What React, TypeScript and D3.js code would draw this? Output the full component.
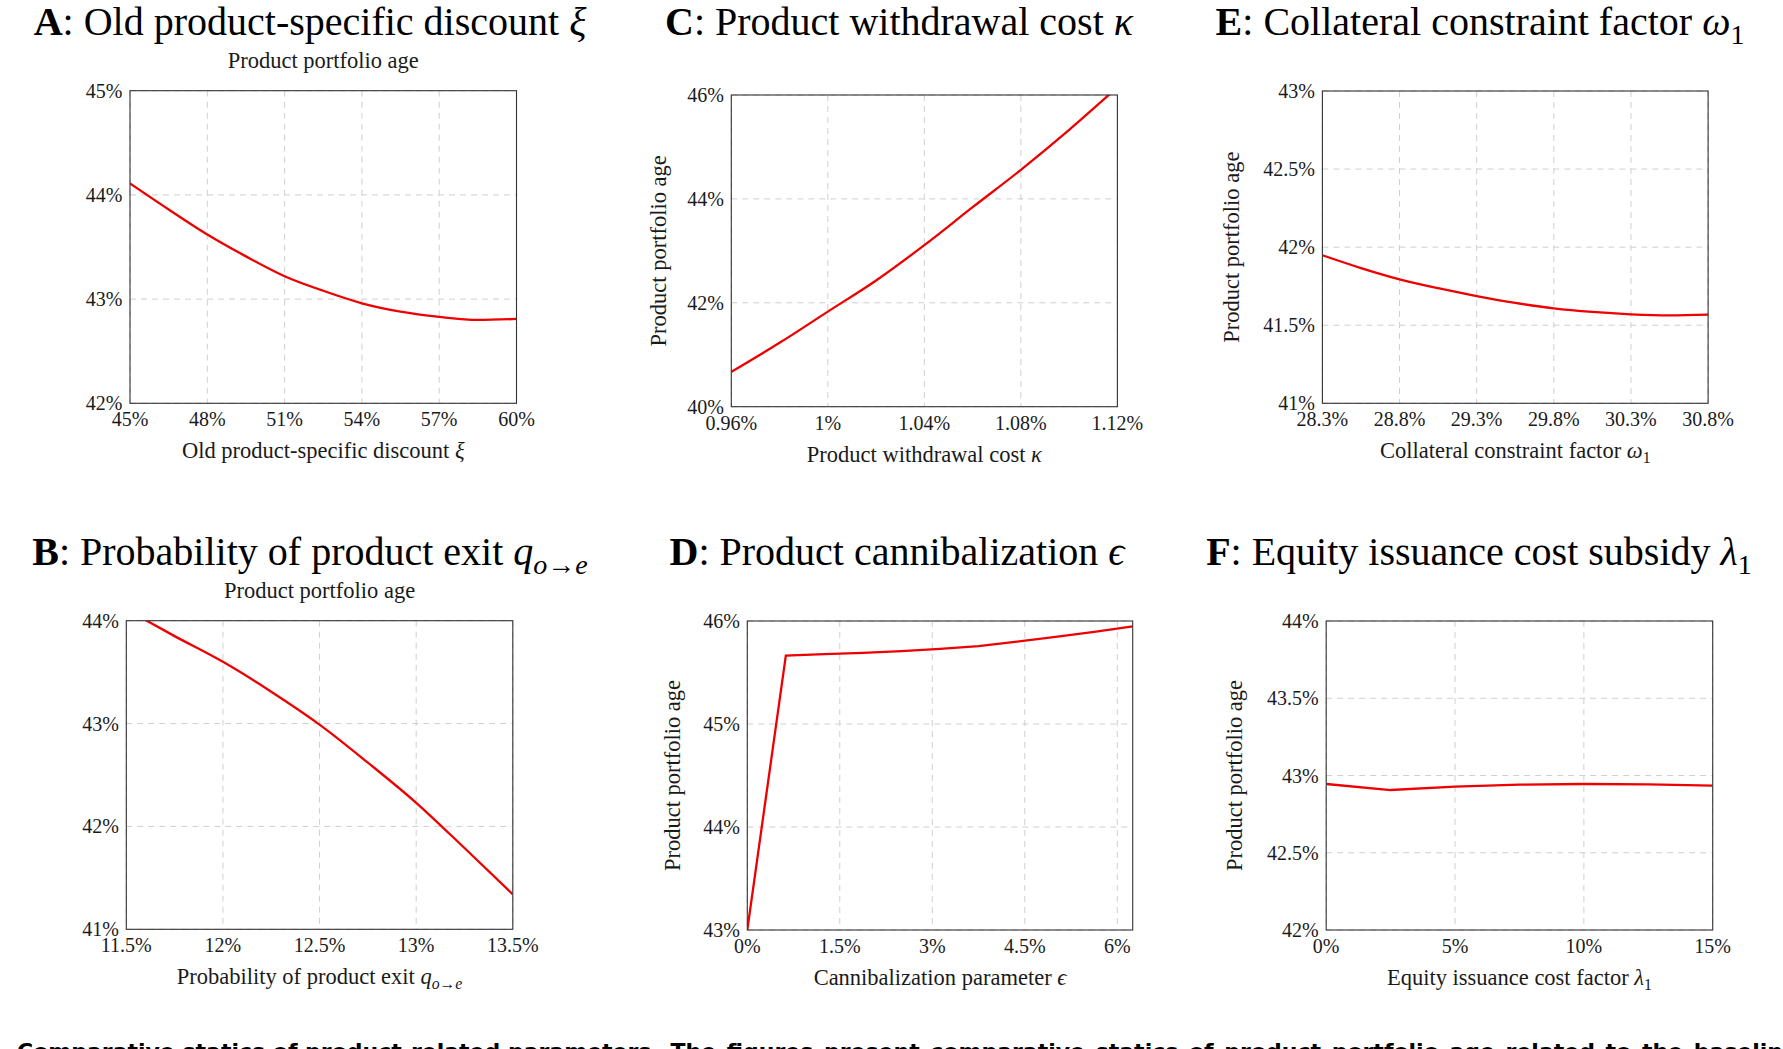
import * as d3 from "d3";

// A: old product-specific discount
const discountX = [45, 46.5, 48, 49.5, 51, 52.5, 54, 55.5, 57, 58.5, 60];
const discountAge = [44.11, 43.86, 43.62, 43.41, 43.22, 43.08, 42.96, 42.88, 42.83, 42.8, 42.81];
const discountTicks = [45, 48, 51, 54, 57, 60];
const discountAgeTicks = [42, 43, 44, 45];

// B: probability of product exit
const exitX = [11.5, 11.75, 12, 12.25, 12.5, 12.75, 13, 13.25, 13.5];
const exitAge = [44.11, 43.85, 43.6, 43.31, 42.99, 42.62, 42.23, 41.79, 41.34];
const exitTicks = [11.5, 12, 12.5, 13, 13.5];
const exitAgeTicks = [41, 42, 43, 44];

// C: product withdrawal cost
const withdrawX = [0.96, 0.98, 1.0, 1.02, 1.04, 1.06, 1.08, 1.1, 1.12];
const withdrawAge = [40.67, 41.23, 41.83, 42.43, 43.11, 43.84, 44.56, 45.33, 46.15];
const withdrawTicks = [0.96, 1.0, 1.04, 1.08, 1.12];
const withdrawAgeTicks = [40, 42, 44, 46];

// D: product cannibalization
const cannibX = [0, 0.625, 1.25, 1.875, 2.5, 3.125, 3.75, 4.375, 5, 5.625, 6.25];
const cannibAge = [43.0, 45.665, 45.678, 45.69, 45.708, 45.73, 45.757, 45.8, 45.845, 45.895, 45.948];
const cannibTicks = [0, 1.5, 3, 4.5, 6];
const cannibAgeTicks = [43, 44, 45, 46];

// E: collateral constraint factor
const collatX = [28.3, 28.55, 28.8, 29.05, 29.3, 29.55, 29.8, 30.05, 30.3, 30.55, 30.8];
const collatAge = [41.948, 41.866, 41.794, 41.737, 41.687, 41.643, 41.608, 41.585, 41.57, 41.563, 41.568];
const collatTicks = [28.3, 28.8, 29.3, 29.8, 30.3, 30.8];
const collatAgeTicks = [41, 41.5, 42, 42.5, 43];

// F: equity issuance cost subsidy
const subsidyX = [0, 2.5, 5, 7.5, 10, 12.5, 15];
const subsidyAge = [42.945, 42.906, 42.928, 42.941, 42.945, 42.943, 42.934];
const subsidyTicks = [0, 5, 10, 15];
const subsidyAgeTicks = [42, 42.5, 43, 43.5, 44];

const captionBold = "Comparative statics of product-related parameters.";
const captionRest =
  " The figures present comparative statics of product portfolio age related to the baseline";

type Seg = { t: string; b?: boolean; i?: boolean; sub?: boolean };

const serif = "'Liberation Serif', 'Times New Roman', serif";
const pct = (v: number) => `${+v.toFixed(2)}%`;
const TITLE = 40;
const LABEL = 22.5;
const TICK = 20;

const panels = [
  {
    id: "A", left: 130, top: 90.7, w: 386.5, h: 312.6, titleX: 310, titleY: 35,
    title: [{ t: "A", b: true }, { t: ": Old product-specific discount " }, { t: "ξ", i: true }] as Seg[],
    topLabel: true, xs: discountX, ys: discountAge, xDomain: [45, 60], yDomain: [42, 45],
    xTicks: discountTicks, yTicks: discountAgeTicks, smooth: true,
    xLabel: [{ t: "Old product-specific discount " }, { t: "ξ", i: true }] as Seg[],
  },
  {
    id: "B", left: 126.3, top: 620.7, w: 386.5, h: 308.6, titleX: 310, titleY: 565,
    title: [{ t: "B", b: true }, { t: ": Probability of product exit " }, { t: "q", i: true }, { t: "o→e", i: true, sub: true }] as Seg[],
    topLabel: true, xs: exitX, ys: exitAge, xDomain: [11.5, 13.5], yDomain: [41, 44],
    xTicks: exitTicks, yTicks: exitAgeTicks, smooth: true,
    xLabel: [{ t: "Probability of product exit " }, { t: "q", i: true }, { t: "o→e", i: true, sub: true }] as Seg[],
  },
  {
    id: "C", left: 731.3, top: 95, w: 386.1, h: 311.7, titleX: 899, titleY: 35,
    title: [{ t: "C", b: true }, { t: ": Product withdrawal cost " }, { t: "κ", i: true }] as Seg[],
    topLabel: false, yLabelX: 661, xs: withdrawX, ys: withdrawAge, xDomain: [0.96, 1.12], yDomain: [40, 46],
    xTicks: withdrawTicks, yTicks: withdrawAgeTicks, smooth: true,
    xLabel: [{ t: "Product withdrawal cost " }, { t: "κ", i: true }] as Seg[],
  },
  {
    id: "D", left: 747.3, top: 621, w: 385.4, h: 309, titleX: 897, titleY: 565,
    title: [{ t: "D", b: true }, { t: ": Product cannibalization " }, { t: "ϵ", i: true }] as Seg[],
    topLabel: false, yLabelX: 674.6, xs: cannibX, ys: cannibAge, xDomain: [0, 6.25], yDomain: [43, 46],
    xTicks: cannibTicks, yTicks: cannibAgeTicks, smooth: false,
    xLabel: [{ t: "Cannibalization parameter " }, { t: "ϵ", i: true }] as Seg[],
  },
  {
    id: "E", left: 1322.4, top: 91, w: 385.7, h: 312.3, titleX: 1480, titleY: 35,
    title: [{ t: "E", b: true }, { t: ": Collateral constraint factor " }, { t: "ω", i: true }, { t: "1", sub: true }] as Seg[],
    topLabel: false, yLabelX: 1233.5, xs: collatX, ys: collatAge, xDomain: [28.3, 30.8], yDomain: [41, 43],
    xTicks: collatTicks, yTicks: collatAgeTicks, smooth: true,
    xLabel: [{ t: "Collateral constraint factor " }, { t: "ω", i: true }, { t: "1", sub: true }] as Seg[],
  },
  {
    id: "F", left: 1326.2, top: 621, w: 386.5, h: 309, titleX: 1479, titleY: 565,
    title: [{ t: "F", b: true }, { t: ": Equity issuance cost subsidy " }, { t: "λ", i: true }, { t: "1", sub: true }] as Seg[],
    topLabel: false, yLabelX: 1237.3, xs: subsidyX, ys: subsidyAge, xDomain: [0, 15], yDomain: [42, 44],
    xTicks: subsidyTicks, yTicks: subsidyAgeTicks, smooth: false,
    xLabel: [{ t: "Equity issuance cost factor " }, { t: "λ", i: true }, { t: "1", sub: true }] as Seg[],
  },
];

function Segs({ segs, size }: { segs: Seg[]; size: number }) {
  let shifted = false;
  return (
    <>
      {segs.map((s, k) => {
        const dy = s.sub && !shifted ? size * 0.22 : !s.sub && shifted ? -size * 0.22 : 0;
        shifted = !!s.sub;
        return (
          <tspan
            key={k}
            dy={dy || undefined}
            fontWeight={s.b ? "bold" : "normal"}
            fontStyle={s.i ? "italic" : "normal"}
            fontSize={s.sub ? size * 0.7 : size}
          >
            {s.t}
          </tspan>
        );
      })}
    </>
  );
}

function Panel({ p }: { p: (typeof panels)[number] }) {
  const x = d3.scaleLinear().domain(p.xDomain).range([p.left, p.left + p.w]);
  const y = d3.scaleLinear().domain(p.yDomain).range([p.top + p.h, p.top]);
  const pts = p.xs.map((v, k) => [v, p.ys[k]] as [number, number]);
  const line = d3
    .line<[number, number]>()
    .x((d) => x(d[0]))
    .y((d) => y(d[1]))
    .curve(p.smooth ? d3.curveMonotoneX : d3.curveLinear);
  const cx = p.left + p.w / 2;
  const cy = p.top + p.h / 2;
  const bottom = p.top + p.h;
  return (
    <g fill="#1a1a1a">
      <text x={p.titleX} y={p.titleY} textAnchor="middle" fontFamily={serif} fontSize={TITLE} fill="#000">
        <Segs segs={p.title} size={TITLE} />
      </text>
      {p.topLabel && (
        <text x={cx} y={p.top - 22.5} textAnchor="middle" fontFamily={serif} fontSize={LABEL}>
          Product portfolio age
        </text>
      )}
      {!p.topLabel && (
        <text
          transform={`translate(${p.yLabelX},${cy}) rotate(-90)`}
          textAnchor="middle"
          dominantBaseline="middle"
          fontFamily={serif}
          fontSize={LABEL}
        >
          Product portfolio age
        </text>
      )}
      <clipPath id={`clip${p.id}`}>
        <rect x={p.left} y={p.top} width={p.w} height={p.h} />
      </clipPath>
      {p.xTicks.map((t) => (
        <line key={`gx${t}`} x1={x(t)} x2={x(t)} y1={p.top} y2={bottom} stroke="#cfcfcf" strokeDasharray="6,5" />
      ))}
      {p.yTicks.map((t) => (
        <line key={`gy${t}`} x1={p.left} x2={p.left + p.w} y1={y(t)} y2={y(t)} stroke="#cfcfcf" strokeDasharray="6,5" />
      ))}
      <path d={line(pts) ?? ""} fill="none" stroke="#ee0000" strokeWidth={2.3} clipPath={`url(#clip${p.id})`} />
      <rect x={p.left} y={p.top} width={p.w} height={p.h} fill="none" stroke="#333" strokeWidth={1.1} />
      {p.xTicks.map((t) => (
        <text key={`tx${t}`} x={x(t)} y={bottom + 23} textAnchor="middle" fontFamily={serif} fontSize={TICK}>
          {pct(t)}
        </text>
      ))}
      {p.yTicks.map((t) => (
        <text key={`ty${t}`} x={p.left - 7.5} y={y(t) + 7} textAnchor="end" fontFamily={serif} fontSize={TICK}>
          {pct(t)}
        </text>
      ))}
      <text x={cx} y={bottom + 55} textAnchor="middle" fontFamily={serif} fontSize={LABEL}>
        <Segs segs={p.xLabel} size={LABEL} />
      </text>
    </g>
  );
}

export default function App() {
  return (
    <svg
      width={1783}
      height={1049}
      style={{ position: "absolute", left: 0, top: 0, background: "#fff" }}
    >
      <rect width={1783} height={1049} fill="#fff" />
      {panels.map((p) => (
        <Panel key={p.id} p={p} />
      ))}
      <text x={17} y={1059} fontFamily="'DejaVu Sans', sans-serif" fontSize={22} fill="#000">
        <tspan fontWeight="bold">{captionBold}</tspan>
        <tspan fontWeight="bold" wordSpacing={3}>{captionRest}</tspan>
      </text>
    </svg>
  );
}
